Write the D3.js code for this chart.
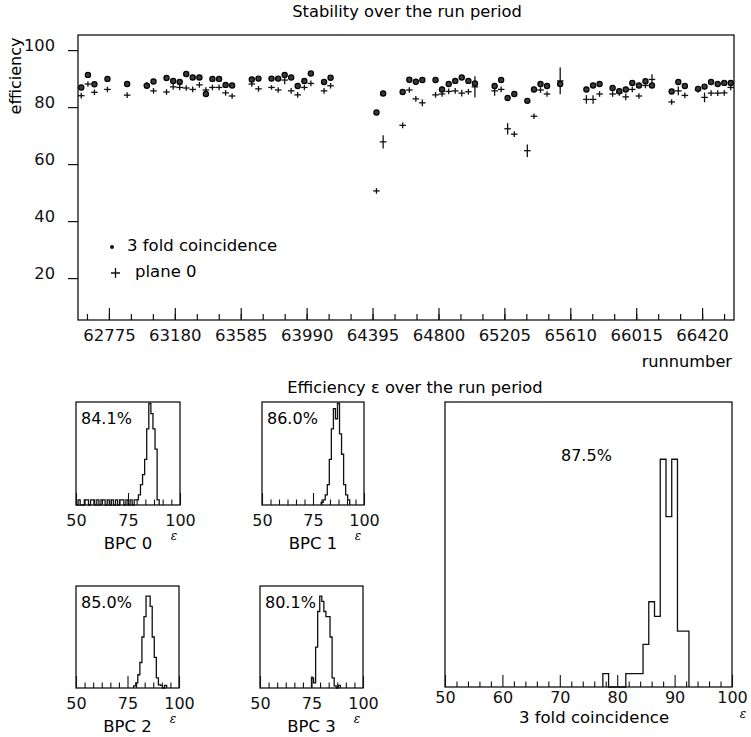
<!DOCTYPE html>
<html>
<head>
<meta charset="utf-8">
<script src="https://cdn.jsdelivr.net/npm/d3@7"></script>
<style>
  body { margin: 0; background: #fff; }
  svg { display: block; }
</style>
</head>
<body>
<svg id="chart" width="751" height="737"></svg>
<script>
// ---- data: efficiency per run bin (bin centres, run numbers) ----
const runs = [62605, 62646, 62686, 62766, 62887, 63008, 63049, 63129, 63170, 63210,
  63250, 63290, 63331, 63371, 63411, 63452, 63492, 63532, 63653, 63694,
  63774, 63815, 63855, 63895, 63935, 63976, 64016, 64097, 64137, 64419,
  64460, 64580, 64621, 64661, 64701, 64782, 64822, 64863, 64903, 64943,
  64984, 65024, 65145, 65185, 65225, 65266, 65346, 65387, 65427, 65467,
  65548, 65709, 65750, 65790, 65870, 65911, 65951, 65991, 66032, 66072,
  66112, 66233, 66274, 66314, 66395, 66435, 66475, 66516, 66556, 66596];

// 3 fold coincidence (dots)
const coinc = [86.9, 91.3, 88.0, 89.9, 88.1, 87.5, 89.0, 90.2, 89.2, 88.8,
  91.6, 90.4, 90.4, 84.6, 89.9, 89.9, 87.8, 87.6, 89.7, 90.0,
  90.0, 90.0, 91.3, 90.4, 87.4, 89.2, 91.8, 88.8, 90.3, 78.1,
  84.8, 85.3, 89.6, 88.9, 89.5, 89.5, 86.2, 88.1, 89.2, 90.4,
  89.2, 88.3, 87.4, 89.5, 83.2, 84.6, 82.2, 86.2, 88.1, 87.4,
  88.1, 86.2, 87.6, 88.1, 86.7, 85.6, 86.2, 88.5, 87.6, 89.1,
  87.6, 85.5, 88.8, 87.4, 86.4, 87.2, 88.8, 88.1, 88.5, 88.5];

// plane 0 (crosses) and its error
const plane0 = [84.0, 88.1, 85.2, 86.2, 84.2, 87.8, 85.7, 85.3, 87.1, 86.9,
  86.7, 86.2, 87.8, 86.0, 86.9, 86.9, 85.0, 83.9, 88.1, 86.4,
  86.9, 86.0, 89.5, 85.7, 84.3, 86.9, 88.3, 85.7, 87.5, 50.6,
  67.8, 73.6, 86.0, 82.9, 81.5, 84.3, 84.6, 85.5, 85.7, 84.9,
  85.4, 87.1, 85.7, 86.2, 72.4, 70.5, 64.7, 76.8, 86.0, 84.6,
  89.2, 82.7, 82.7, 84.6, 84.6, 85.0, 83.6, 86.2, 83.9, 87.6,
  89.7, 81.8, 85.7, 84.1, 86.0, 83.4, 84.9, 84.9, 85.0, 86.9];
const plane0Err = [1.0, 1.0, 1.0, 1.0, 1.0, 1.0, 1.0, 1.0, 1.0, 1.0,
  1.0, 1.0, 1.0, 1.0, 1.0, 1.0, 1.0, 1.0, 1.0, 1.0,
  0.8, 1.0, 1.5, 1.0, 1.0, 1.0, 1.0, 1.0, 1.0, 1.0,
  2.3, 1.0, 1.0, 1.0, 1.2, 1.0, 1.0, 1.0, 1.0, 1.2,
  1.0, 3.7, 1.7, 1.0, 2.0, 1.0, 2.2, 1.0, 1.0, 1.0,
  4.7, 1.5, 1.5, 1.0, 1.0, 1.0, 1.2, 1.0, 1.0, 1.0,
  1.8, 1.0, 1.5, 1.0, 1.0, 1.7, 1.0, 1.0, 1.0, 1.0];

const RUN_BIN = 40.31;
const effTicks = [20, 40, 60, 80, 100];
const runTicks = [62775, 63180, 63585, 63990, 64395, 64800, 65205, 65610, 66015, 66420];

// ---- data: efficiency histograms (1 % bins, first bin low edge given) ----
const bpcNames = ["BPC 0", "BPC 1", "BPC 2", "BPC 3"];
const bpcMeans = ["84.1%", "86.0%", "85.0%", "80.1%"];
const bpcFirst = [50, 79, 78, 75];
const bpc0 = [0, 1, 0, 0, 1, 1, 0, 1, 1, 0, 1, 0, 1, 1, 0, 1, 0, 1, 0, 1,
  0, 1, 1, 0, 1, 0, 1, 0, 1, 1, 2, 4, 6, 9, 15, 20, 18, 15, 11, 1];
const bpc1 = [0.5, 1, 2, 4, 9, 15, 19, 17, 20, 14, 10, 4, 2, 1];
const bpc2 = [0.4, 1, 2.6, 5, 10, 14, 18, 18, 16, 10, 6, 2, 0.6, 0.5, 0, 0.5];
const bpc3 = [2, 1, 8, 15, 18, 17, 15, 14, 14, 10, 2, 0.4, 0, 0.5];
const bpcTicks = [50, 75, 100];

const coincMean = "87.5%";
const coincFirst = 78;   // bins centred on integers
const coincCounts = [1, 0, 0, 0, 1, 1, 1, 3.2, 6.4, 5.3, 17.1, 12.8, 17.1, 4.2, 4.2];
const coincTicks = [50, 60, 70, 80, 90, 100];

// ---- drawing ----
const FONT = "DejaVu Sans, sans-serif";
const INK = "#111";
const svg = d3.select("#chart");

// top panel: stability over the run period
const TOP = { left: 78, right: 734, top: 35, bottom: 320 };
const x = d3.scaleLinear().domain([62585, 66616]).range([TOP.left, TOP.right]);
const y = d3.scaleLinear().domain([5.3, 105.3]).range([TOP.bottom, TOP.top]);

svg.append("text")
  .attr("x", 407).attr("y", 17)
  .attr("text-anchor", "middle")
  .attr("font-family", FONT).attr("font-size", 16.3)
  .text("Stability over the run period");

svg.append("rect")
  .attr("x", TOP.left).attr("y", TOP.top)
  .attr("width", TOP.right - TOP.left).attr("height", TOP.bottom - TOP.top)
  .attr("fill", "none").attr("stroke", INK).attr("stroke-width", 1.3);

// y axis, ticks outside
svg.append("g")
  .attr("transform", `translate(${TOP.left},0)`)
  .call(d3.axisLeft(y).tickValues(effTicks).tickSize(10).tickPadding(13))
  .call(g => g.select(".domain").remove())
  .call(g => g.selectAll("line").attr("stroke", INK).attr("stroke-width", 1.2))
  .call(g => g.selectAll("text").attr("dy", "0.04em").attr("fill", INK))
  .attr("font-family", FONT).attr("font-size", 16.3);

svg.append("text")
  .attr("transform", "translate(21,76) rotate(-90)")
  .attr("text-anchor", "middle")
  .attr("font-family", FONT).attr("font-size", 16)
  .text("efficiency");

// x axis, ticks inside
svg.append("g")
  .attr("transform", `translate(0,${TOP.bottom})`)
  .call(d3.axisBottom(x).tickValues(d3.range(62640, 66616, 135)).tickSize(-6).tickFormat(""))
  .call(g => g.select(".domain").remove())
  .call(g => g.selectAll("line").attr("stroke", INK).attr("stroke-width", 1.2));

svg.append("g")
  .attr("transform", `translate(0,${TOP.bottom})`)
  .call(d3.axisBottom(x).tickValues(runTicks).tickSize(-12).tickPadding(9).tickFormat(d3.format("d")))
  .call(g => g.select(".domain").remove())
  .call(g => g.selectAll("line").attr("stroke", INK).attr("stroke-width", 1.2))
  .call(g => g.selectAll("text").attr("fill", INK))
  .attr("font-family", FONT).attr("font-size", 16.5);

svg.append("text")
  .attr("x", 732).attr("y", 367)
  .attr("text-anchor", "end")
  .attr("font-family", FONT).attr("font-size", 16.2)
  .text("runnumber");

// plane 0 crosses
const crosses = svg.append("g").attr("stroke", INK).attr("stroke-width", 1.3);
runs.forEach((r, i) => {
  crosses.append("line")
    .attr("x1", x(r - RUN_BIN / 2)).attr("x2", x(r + RUN_BIN / 2))
    .attr("y1", y(plane0[i])).attr("y2", y(plane0[i]));
  crosses.append("line")
    .attr("x1", x(r)).attr("x2", x(r))
    .attr("y1", y(plane0[i] - plane0Err[i])).attr("y2", y(plane0[i] + plane0Err[i]));
});

// coincidence dots
svg.append("g").selectAll("circle")
  .data(runs)
  .join("circle")
  .attr("cx", d => x(d))
  .attr("cy", (d, i) => y(coinc[i]))
  .attr("r", 2.6)
  .attr("fill", "#3a3a3a").attr("stroke", "#000").attr("stroke-width", 1.2);

// legend
svg.append("circle").attr("cx", 112).attr("cy", 247).attr("r", 2).attr("fill", INK);
svg.append("text").attr("x", 127).attr("y", 251)
  .attr("font-family", FONT).attr("font-size", 16.5).text("3 fold coincidence");
svg.append("path").attr("d", "M111,273H120M115.5,268V278")
  .attr("stroke", INK).attr("stroke-width", 1.3);
svg.append("text").attr("x", 135).attr("y", 277)
  .attr("font-family", FONT).attr("font-size", 16.5).text("plane 0");

// bottom title
svg.append("text")
  .attr("x", 415).attr("y", 393)
  .attr("text-anchor", "middle")
  .attr("font-family", FONT).attr("font-size", 16.3)
  .text("Efficiency \u03b5 over the run period");

// histogram helper
function histPanel(box, counts, first, offset, yMax, opt) {
  const hx = d3.scaleLinear().domain([50, 100]).range([box.left, box.right]);
  const hy = d3.scaleLinear().domain([0, yMax]).range([box.bottom, box.top]);
  const g = svg.append("g");

  g.append("rect")
    .attr("x", box.left).attr("y", box.top)
    .attr("width", box.right - box.left).attr("height", box.bottom - box.top)
    .attr("fill", "none").attr("stroke", INK).attr("stroke-width", 1.3);

  // minor ticks
  g.append("g")
    .attr("transform", `translate(0,${box.bottom})`)
    .call(d3.axisBottom(hx).tickValues(opt.minor).tickSize(-5.5).tickFormat(""))
    .call(a => a.select(".domain").remove())
    .call(a => a.selectAll("line").attr("stroke", INK).attr("stroke-width", 1.1));
  // major ticks + labels
  g.append("g")
    .attr("transform", `translate(0,${box.bottom})`)
    .call(d3.axisBottom(hx).tickValues(opt.major).tickSize(-12).tickPadding(opt.pad).tickFormat(d3.format("d")))
    .call(a => a.select(".domain").remove())
    .call(a => a.selectAll("line").attr("stroke", INK).attr("stroke-width", 1.1))
    .call(a => a.selectAll("text").attr("fill", INK))
    .attr("font-family", FONT).attr("font-size", 16);

  // step outline
  const pts = [[first + offset, 0]];
  counts.forEach((c, i) => {
    pts.push([first + offset + i, c], [first + offset + i + 1, c]);
  });
  pts.push([first + offset + counts.length, 0]);
  g.append("path")
    .attr("d", d3.line().x(d => hx(d[0])).y(d => hy(d[1]))(pts))
    .attr("fill", "none").attr("stroke", INK).attr("stroke-width", 1.3);

  g.append("text")
    .attr("x", opt.meanX).attr("y", opt.meanY)
    .attr("font-family", FONT).attr("font-size", 16)
    .text(opt.mean);
  g.append("text")
    .attr("x", opt.nameX).attr("y", opt.nameY)
    .attr("text-anchor", "middle")
    .attr("font-family", FONT).attr("font-size", 16.5)
    .text(opt.name);
  g.append("text")
    .attr("x", opt.epsX).attr("y", opt.epsY)
    .attr("text-anchor", "middle")
    .attr("font-family", "DejaVu Serif, serif").attr("font-style", "italic")
    .attr("font-size", 12)
    .text("\u03b5");
}

const bpcBoxes = [
  { left: 76, right: 180, top: 402, bottom: 505 },
  { left: 262, right: 364, top: 402, bottom: 505 },
  { left: 76, right: 179, top: 586, bottom: 688 },
  { left: 260, right: 363, top: 586, bottom: 688 }
];
const bpcData = [bpc0, bpc1, bpc2, bpc3];
const bpcYMax = [20.3, 20.3, 20, 20];
const bpcMinor = d3.range(1, 12).filter(k => k !== 6).map(k => 50 + k * 25 / 6);

bpcBoxes.forEach((b, i) => {
  histPanel(b, bpcData[i], bpcFirst[i], 0, bpcYMax[i], {
    minor: bpcMinor, major: bpcTicks, pad: 10,
    mean: bpcMeans[i], meanX: b.left + 5, meanY: b.top + 21.5,
    name: bpcNames[i], nameX: (b.left + b.right) / 2, nameY: b.bottom + 44,
    epsX: b.right - 6, epsY: b.bottom + 35
  });
});

const bigBox = { left: 445, right: 732, top: 402, bottom: 687 };
histPanel(bigBox, coincCounts, coincFirst, -0.5, 21.4, {
  minor: d3.range(52, 100, 2).filter(v => v % 10 !== 0), major: coincTicks, pad: 4.5,
  mean: coincMean, meanX: 561, meanY: 461,
  name: "3 fold coincidence", nameX: 594, nameY: 723,
  epsX: 743, epsY: 718
});
</script>
</body>
</html>
